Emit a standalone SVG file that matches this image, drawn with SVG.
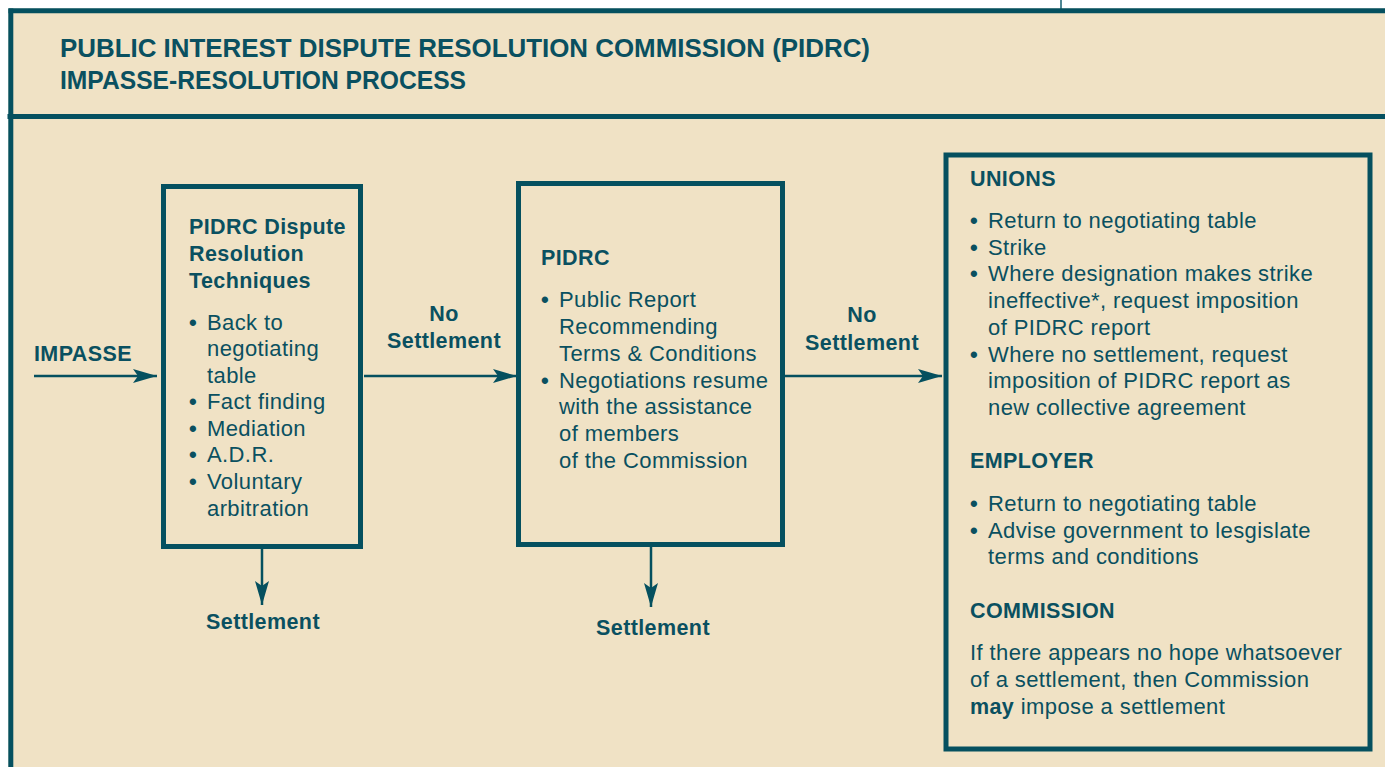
<svg xmlns="http://www.w3.org/2000/svg" width="1385" height="767" viewBox="0 0 1385 767">
<style>
text{font-family:"Liberation Sans",Arial,sans-serif;fill:#0a5060;font-size:22px;letter-spacing:0.4px}
.b{font-weight:bold;font-size:21.5px;letter-spacing:0.4px}
.t{font-weight:bold;font-size:25px;letter-spacing:0}
.d{font-weight:bold}
.box{fill:none;stroke:#05505f;stroke-width:5}
.ln{stroke:#05505f;stroke-width:2.5;fill:none}
</style>
<defs>
<marker id="ah" markerUnits="userSpaceOnUse" markerWidth="26" markerHeight="16" refX="24" refY="8" orient="auto">
<path d="M0,1 L24,8 L0,15 L5,8 Z" fill="#05505f"/>
</marker>
</defs>
<rect x="0" y="0" width="1385" height="767" fill="#ffffff"/>
<rect x="8.5" y="8.5" width="1380" height="760" fill="#f0e2c5"/>
<line x1="1061" y1="0" x2="1061" y2="9" stroke="#4f8793" stroke-width="2"/>
<g id="frame">
<line x1="8.5" y1="10.8" x2="1385" y2="10.8" stroke="#05505f" stroke-width="5"/>
<line x1="10.8" y1="8.5" x2="10.8" y2="767" stroke="#05505f" stroke-width="5"/>
<line x1="7.5" y1="116.5" x2="1385" y2="116.5" stroke="#05505f" stroke-width="5"/>
</g>
<g id="title">
<text class="t" x="60" y="57" textLength="810" lengthAdjust="spacingAndGlyphs">PUBLIC INTEREST DISPUTE RESOLUTION COMMISSION (PIDRC)</text>
<text class="t" x="60" y="89" textLength="406" lengthAdjust="spacingAndGlyphs">IMPASSE-RESOLUTION PROCESS</text>
</g>
<g id="connectors">
<line class="ln" x1="34" y1="376" x2="157" y2="376" marker-end="url(#ah)"/>
<line class="ln" x1="364" y1="376" x2="517" y2="376" marker-end="url(#ah)"/>
<line class="ln" x1="785" y1="376" x2="942" y2="376" marker-end="url(#ah)"/>
<line class="ln" x1="262" y1="548" x2="262" y2="605" marker-end="url(#ah)"/>
<line class="ln" x1="651" y1="546" x2="651" y2="607" marker-end="url(#ah)"/>
</g>
<g id="impasse">
<text class="b" x="34" y="361">IMPASSE</text>
</g>
<g id="no-settlement-1">
<text class="b" x="444" y="321" text-anchor="middle">No</text>
<text class="b" x="444" y="348" text-anchor="middle">Settlement</text>
</g>
<g id="no-settlement-2">
<text class="b" x="862" y="322" text-anchor="middle">No</text>
<text class="b" x="862" y="350" text-anchor="middle">Settlement</text>
</g>
<g id="settlement-1">
<text class="b" x="263" y="629" text-anchor="middle">Settlement</text>
</g>
<g id="settlement-2">
<text class="b" x="653" y="635" text-anchor="middle">Settlement</text>
</g>
<g id="box-techniques">
<rect class="box" x="163.5" y="186.5" width="197" height="360"/>
<text class="b" x="189" y="234">PIDRC Dispute</text>
<text class="b" x="189" y="261">Resolution</text>
<text class="b" x="189" y="288">Techniques</text>
<text><tspan class="d" x="189" y="330">•</tspan><tspan x="207" y="330">Back to</tspan></text>
<text x="207" y="356">negotiating</text>
<text x="207" y="383">table</text>
<text><tspan class="d" x="189" y="409">•</tspan><tspan x="207" y="409">Fact finding</tspan></text>
<text><tspan class="d" x="189" y="436">•</tspan><tspan x="207" y="436">Mediation</tspan></text>
<text><tspan class="d" x="189" y="462">•</tspan><tspan x="207" y="462">A.D.R.</tspan></text>
<text><tspan class="d" x="189" y="489">•</tspan><tspan x="207" y="489">Voluntary</tspan></text>
<text x="207" y="516">arbitration</text>
</g>
<g id="box-pidrc">
<rect class="box" x="518.5" y="183.5" width="264" height="361"/>
<text class="b" x="541" y="265">PIDRC</text>
<text><tspan class="d" x="541" y="307">•</tspan><tspan x="559" y="307">Public Report</tspan></text>
<text x="559" y="334">Recommending</text>
<text x="559" y="361">Terms &amp; Conditions</text>
<text><tspan class="d" x="541" y="388">•</tspan><tspan x="559" y="388">Negotiations resume</tspan></text>
<text x="559" y="414">with the assistance</text>
<text x="559" y="441">of members</text>
<text x="559" y="468">of the Commission</text>
</g>
<g id="box-outcomes">
<rect class="box" x="946" y="155" width="424" height="594"/>
<text class="b" x="970" y="186">UNIONS</text>
<text><tspan class="d" x="970" y="228">•</tspan><tspan x="988" y="228">Return to negotiating table</tspan></text>
<text><tspan class="d" x="970" y="255">•</tspan><tspan x="988" y="255">Strike</tspan></text>
<text><tspan class="d" x="970" y="281">•</tspan><tspan x="988" y="281">Where designation makes strike</tspan></text>
<text x="988" y="308">ineffective*, request imposition</text>
<text x="988" y="335">of PIDRC report</text>
<text><tspan class="d" x="970" y="362">•</tspan><tspan x="988" y="362">Where no settlement, request</tspan></text>
<text x="988" y="388">imposition of PIDRC report as</text>
<text x="988" y="415">new collective agreement</text>
<text class="b" x="970" y="468">EMPLOYER</text>
<text><tspan class="d" x="970" y="511">•</tspan><tspan x="988" y="511">Return to negotiating table</tspan></text>
<text><tspan class="d" x="970" y="538">•</tspan><tspan x="988" y="538">Advise government to lesgislate</tspan></text>
<text x="988" y="564">terms and conditions</text>
<text class="b" x="970" y="618">COMMISSION</text>
<text x="970" y="660">If there appears no hope whatsoever</text>
<text x="970" y="687">of a settlement, then Commission</text>
<text x="970" y="714"><tspan class="b">may</tspan> impose a settlement</text>
</g>
</svg>
